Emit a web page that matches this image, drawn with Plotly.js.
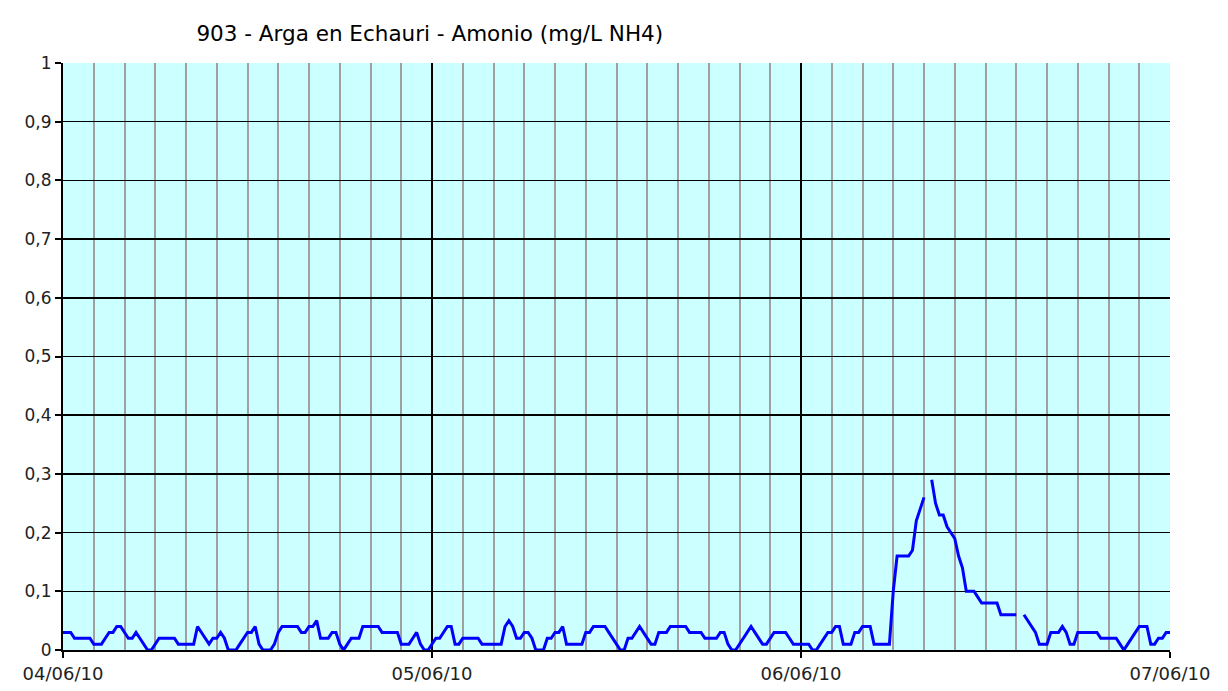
<!DOCTYPE html>
<html>
<head>
<meta charset="utf-8">
<script src="https://cdn.plot.ly/plotly-3.0.1.min.js"></script>
<style>html,body{margin:0;padding:0;background:#fff;}#chart{width:1228px;height:691px;}</style>
</head>
<body>
<div id="chart"></div>
<script>
// Title and axis labels
const chartTitle = "903 - Arga en Echauri - Amonio (mg/L NH4)";
const startDate = "2010-06-04T00:00:00";
const endDate = "2010-06-07T00:00:00";
const stepMinutes = 15;

// Ammonium readings (mg/L NH4), one every 15 minutes from 04/06/10 00:00, null = missing
const day1 = [
  0.03,0.03,0.03,0.02, 0.02,0.02,0.02,0.02, 0.01,0.01,0.01,0.02, 0.03,0.03,0.04,0.04,
  0.03,0.02,0.02,0.03, 0.02,0.01,0,0, 0.01,0.02,0.02,0.02, 0.02,0.02,0.01,0.01,
  0.01,0.01,0.01,0.04, 0.03,0.02,0.01,0.02, 0.02,0.03,0.02,0, 0,0,0.01,0.02,
  0.03,0.03,0.04,0.01, 0,0,0,0.01, 0.03,0.04,0.04,0.04, 0.04,0.04,0.03,0.03,
  0.04,0.04,0.05,0.02, 0.02,0.02,0.03,0.03, 0.01,0,0.01,0.02, 0.02,0.02,0.04,0.04,
  0.04,0.04,0.04,0.03, 0.03,0.03,0.03,0.03, 0.01,0.01,0.01,0.02, 0.03,0.01,0,0
];
const day2 = [
  0.01,0.02,0.02,0.03, 0.04,0.04,0.01,0.01, 0.02,0.02,0.02,0.02, 0.02,0.01,0.01,0.01,
  0.01,0.01,0.01,0.04, 0.05,0.04,0.02,0.02, 0.03,0.03,0.02,0, 0,0,0.02,0.02,
  0.03,0.03,0.04,0.01, 0.01,0.01,0.01,0.01, 0.03,0.03,0.04,0.04, 0.04,0.04,0.03,0.02,
  0.01,0,0,0.02, 0.02,0.03,0.04,0.03, 0.02,0.01,0.01,0.03, 0.03,0.03,0.04,0.04,
  0.04,0.04,0.04,0.03, 0.03,0.03,0.03,0.02, 0.02,0.02,0.02,0.03, 0.03,0.01,0,0,
  0.01,0.02,0.03,0.04, 0.03,0.02,0.01,0.01, 0.02,0.03,0.03,0.03, 0.03,0.02,0.01,0.01
];
const day3 = [
  0.01,0.01,0.01,0, 0,0.01,0.02,0.03, 0.03,0.04,0.04,0.01, 0.01,0.01,0.03,0.03,
  0.04,0.04,0.04,0.01, 0.01,0.01,0.01,0.01, 0.10,0.16,0.16,0.16, 0.16,0.17,0.22,0.24,
  0.26,null,0.29,0.25, 0.23,0.23,0.21,0.20, 0.19,0.16,0.14,0.10, 0.10,0.10,0.09,0.08,
  0.08,0.08,0.08,0.08, 0.06,0.06,0.06,0.06, 0.06,null,0.06,0.05, 0.04,0.03,0.01,0.01,
  0.01,0.03,0.03,0.03, 0.04,0.03,0.01,0.01, 0.03,0.03,0.03,0.03, 0.03,0.03,0.02,0.02,
  0.02,0.02,0.02,0.01, 0,0.01,0.02,0.03, 0.04,0.04,0.04,0.01, 0.01,0.02,0.02,0.03,
  0.03
];

const values = day1.concat(day2, day3);
const t0 = new Date(startDate + "Z").getTime();
const times = values.map((v, i) => {
  const d = new Date(t0 + i * stepMinutes * 60000);
  return d.toISOString().slice(0, 19).replace("T", " ");
});

const font = "'DejaVu Sans', Verdana, sans-serif";

const trace = {
  x: times, y: values, type: "scatter", mode: "lines",
  line: {color: "#0000FF", width: 3}, connectgaps: false, hoverinfo: "x+y"
};

const layout = {
  width: 1228, height: 691,
  margin: {l: 63, r: 58, t: 63, b: 41},
  paper_bgcolor: "#ffffff", plot_bgcolor: "#CCFFFF",
  separators: ",.",
  showlegend: false,
  title: {text: chartTitle, x: 0.350, xanchor: "center", y: 0.952, yanchor: "middle",
          font: {family: font, size: 21.5, color: "#000"}},
  xaxis: {
    type: "date", range: [startDate.replace("T", " "), endDate.replace("T", " ")],
    dtick: 86400000, tick0: "2010-06-04", tickformat: "%d/%m/%y",
    showgrid: true, gridcolor: "#000000", gridwidth: 1.5,
    minor: {dtick: 7200000, showgrid: true, gridcolor: "#A0A0A0", gridwidth: 2},
    showline: true, linecolor: "#000", linewidth: 2, mirror: false,
    ticks: "outside", ticklen: 6, tickwidth: 2, tickcolor: "#000",
    tickfont: {family: font, size: 18, color: "#222"}, zeroline: false, fixedrange: true
  },
  yaxis: {
    range: [0, 1], dtick: 0.1, tick0: 0,
    showgrid: true, gridcolor: "#000000", gridwidth: 1.5,
    showline: true, linecolor: "#000", linewidth: 2,
    ticks: "outside", ticklen: 6, tickwidth: 2, tickcolor: "#000",
    tickfont: {family: font, size: 17, color: "#222"}, zeroline: false, fixedrange: true
  }
};

Plotly.newPlot("chart", [trace], layout, {displayModeBar: false, staticPlot: true});
</script>
</body>
</html>
